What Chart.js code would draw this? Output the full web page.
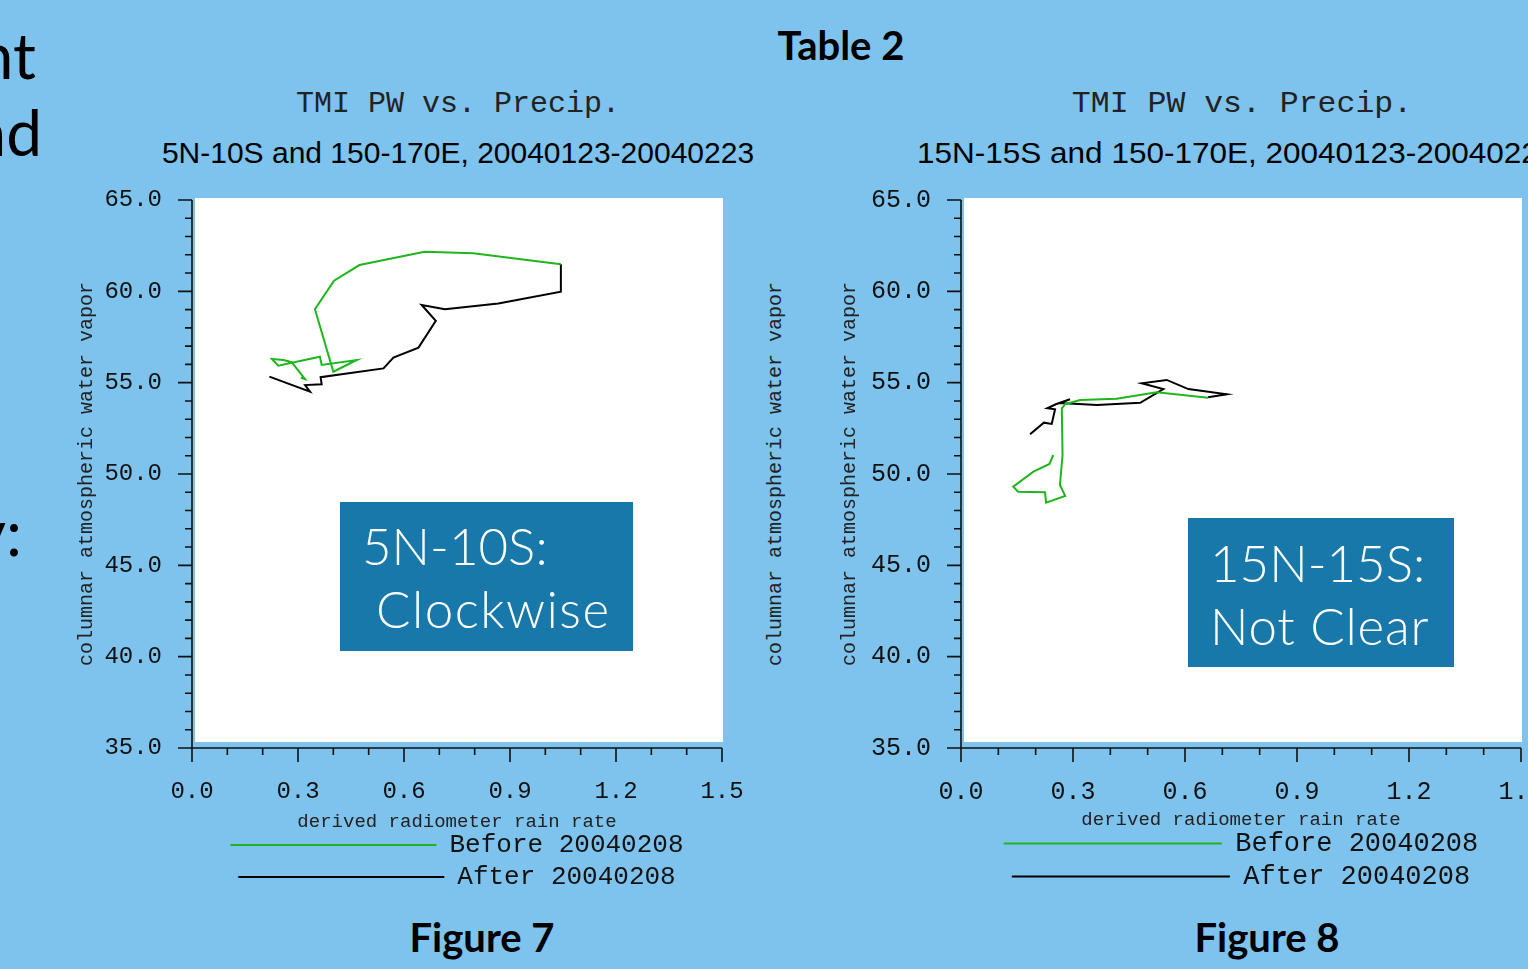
<!DOCTYPE html>
<html>
<head>
<meta charset="utf-8">
<script src="https://cdn.jsdelivr.net/npm/chart.js@4.4.1/dist/chart.umd.min.js"></script>
<style>
html, body { margin: 0; padding: 0; width: 1528px; height: 969px; overflow: hidden; background: #7dc3ed; }
.t { position: absolute; white-space: nowrap; line-height: 1; color: #000; }
.slide { font-family: Lato, sans-serif; font-size: 64px; text-align: right; }
.head { font-family: Lato, sans-serif; font-weight: bold; font-size: 40px; transform: translateX(-50%); }
.ttl { font-family: "Liberation Mono", monospace; font-size: 30px; color: #222; transform: translateX(-50%); }
.sub { font-family: "Liberation Sans", Arial, sans-serif; font-size: 30px; }
.box { position: absolute; background: #1878aa; }
.box div { position: absolute; white-space: nowrap; line-height: 1; color: #fff; font-family: Lato, sans-serif; font-weight: 300; font-size: 51px; }
.ytl { font-family: "Liberation Mono", monospace; font-size: 20px; color: #222; transform: translate(-50%, -50%) rotate(-90deg); }
canvas { position: absolute; }
</style>
</head>
<body>
<div class="t slide" style="left:-100px; width:136px; top:23px;">nt</div>
<div class="t slide" style="left:-100px; width:142px; top:100px;">nd</div>
<div class="t slide" style="left:-100px; width:122px; top:500px;">y:</div>

<div class="t head" style="left:841px; top:25px;">Table 2</div>

<div class="t ttl" style="left:458px; top:89px;">TMI PW vs. Precip.</div>
<div class="t sub" style="left:458px; top:138px; transform:translateX(-50%);">5N-10S and 150-170E, 20040123-20040223</div>
<div class="t ttl" style="left:1242px; top:89px; transform:translateX(-50%) scaleX(1.05);">TMI PW vs. Precip.</div>
<div class="t sub" style="left:917px; top:138px; transform-origin:0 0; transform:scaleX(1.05);">15N-15S and 150-170E, 20040123-20040223</div>

<div class="t ytl" style="left:776px; top:474px;">columnar atmospheric water vapor</div>

<canvas id="fig7" width="796" height="720" style="left:60px; top:180px;"></canvas>
<canvas id="fig8" width="822" height="720" style="left:830px; top:180px;"></canvas>

<div class="box" style="left:340px; top:502px; width:293px; height:149px;">
  <div style="left:22px; top:18px;">5N-10S:</div>
  <div style="left:36px; top:81px; letter-spacing:1.5px;">Clockwise</div>
</div>
<div class="box" style="left:1188px; top:518px; width:266px; height:149px;">
  <div style="left:22px; top:19px;">15N-15S:</div>
  <div style="left:22px; top:82px; letter-spacing:0.8px;">Not Clear</div>
</div>

<div class="t head" style="left:482px; top:917px;">Figure 7</div>
<div class="t head" style="left:1267px; top:917px;">Figure 8</div>

<script>
// axis ticks
var xTickValues = [0.0, 0.3, 0.6, 0.9, 1.2, 1.5];
var yTickValues = [35, 40, 45, 50, 55, 60, 65];
var seriesLabels = ['Before 20040208', 'After 20040208'];

// Figure 7: 5N-10S (rain rate, water vapor)
var fig7BeforeRain = [0.308, 0.320, 0.282, 0.259, 0.226, 0.244, 0.362, 0.367, 0.466, 0.400, 0.348, 0.402, 0.474, 0.658, 0.796, 1.044];
var fig7BeforePW   = [55.27, 55.20, 56.12, 56.24, 56.30, 55.93, 56.42, 55.97, 56.24, 55.60, 59.02, 60.58, 61.44, 62.17, 62.08, 61.48];
var fig7AfterRain  = [1.044, 1.044, 0.867, 0.716, 0.650, 0.690, 0.641, 0.570, 0.542, 0.364, 0.367, 0.320, 0.334, 0.219];
var fig7AfterPW    = [61.48, 59.98, 59.34, 59.02, 59.25, 58.39, 56.92, 56.37, 55.78, 55.30, 54.91, 54.87, 54.51, 55.33];

// Figure 8: 15N-15S
var fig8BeforeRain = [0.247, 0.237, 0.194, 0.140, 0.153, 0.225, 0.228, 0.279, 0.265, 0.272, 0.270, 0.279, 0.319, 0.417, 0.524, 0.662];
var fig8BeforePW   = [51.04, 50.55, 50.13, 49.31, 49.03, 49.00, 48.43, 48.80, 49.40, 51.04, 53.60, 53.82, 54.05, 54.12, 54.47, 54.18];
var fig8AfterRain  = [0.662, 0.712, 0.609, 0.551, 0.484, 0.542, 0.480, 0.364, 0.265, 0.292, 0.254, 0.231, 0.252, 0.243, 0.222, 0.185];
var fig8AfterPW    = [54.20, 54.36, 54.65, 55.15, 54.97, 54.65, 53.90, 53.78, 53.89, 54.09, 53.82, 53.60, 53.54, 52.74, 52.81, 52.17];

var GREEN = '#1fb51f';
var INK = '#111';
var MONO = '"Liberation Mono", monospace';

function pairs(xs, ys) {
  return xs.map(function (x, i) { return { x: x, y: ys[i] }; });
}

// white plot panel plus axes with major/minor ticks
var framePlugin = {
  id: 'frame',
  beforeDraw: function (chart) {
    var a = chart.chartArea, ctx = chart.ctx;
    ctx.save();
    ctx.fillStyle = '#fff';
    ctx.fillRect(a.left + 3, a.top - 2, a.right - a.left - 2, a.bottom - a.top - 4);
    ctx.restore();
  },
  afterDraw: function (chart) {
    var a = chart.chartArea, ctx = chart.ctx, x = chart.scales.x, y = chart.scales.y;
    ctx.save();
    ctx.strokeStyle = INK;
    ctx.lineWidth = 1.6;
    ctx.beginPath();
    ctx.moveTo(a.left, a.top);
    ctx.lineTo(a.left, a.bottom);
    ctx.moveTo(a.left - 14, a.bottom);
    ctx.lineTo(a.right, a.bottom);
    for (var v = 35; v <= 65; v++) {
      var py = y.getPixelForValue(v);
      var len = v % 5 === 0 ? 14 : 7;
      ctx.moveTo(a.left - len, py);
      ctx.lineTo(a.left, py);
    }
    for (var i = 0; i <= 15; i++) {
      var px = x.getPixelForValue(i / 10);
      var l2 = i % 3 === 0 ? 14 : 7;
      ctx.moveTo(px, a.bottom);
      ctx.lineTo(px, a.bottom + l2);
    }
    ctx.stroke();
    ctx.restore();
  }
};

function makeChart(id, before, after, o) {
  return new Chart(document.getElementById(id), {
    type: 'scatter',
    data: {
      datasets: [
        { label: seriesLabels[0], data: before, showLine: true, borderColor: GREEN, backgroundColor: GREEN, borderWidth: 2, pointRadius: 0, tension: 0 },
        { label: seriesLabels[1], data: after, showLine: true, borderColor: '#000', backgroundColor: '#000', borderWidth: 2, pointRadius: 0, tension: 0 }
      ]
    },
    options: {
      responsive: false,
      animation: false,
      events: [],
      layout: { padding: { left: 0, top: 20, right: o.padRight, bottom: 0 } },
      plugins: {
        tooltip: { enabled: false },
        legend: {
          position: 'bottom',
          fullSize: false,
          labels: { boxWidth: o.boxW, boxHeight: 0, padding: 6, color: INK, font: { family: MONO, size: o.legendSize } }
        }
      },
      scales: {
        x: {
          type: 'linear', min: 0, max: 1.5,
          afterBuildTicks: function (s) { s.ticks = xTickValues.map(function (v) { return { value: v }; }); },
          afterFit: function (s) { s.height = o.xh; },
          grid: { display: false, drawTicks: false },
          border: { display: false },
          ticks: { padding: 29, color: INK, maxRotation: 0, autoSkip: false, font: { family: MONO, size: o.tickSize },
                   callback: function (v) { return Number(v).toFixed(1); } },
          title: { display: true, text: 'derived radiometer rain rate', color: '#222', padding: { top: 0, bottom: 0 },
                   font: { family: MONO, size: 19, lineHeight: 0.4 } }
        },
        y: {
          type: 'linear', min: 35, max: 65,
          afterBuildTicks: function (s) { s.ticks = yTickValues.map(function (v) { return { value: v }; }); },
          afterFit: function (s) { s.width = o.yw; },
          grid: { display: true, drawOnChartArea: false, drawTicks: true, tickLength: 30, color: 'rgba(0,0,0,0)' },
          border: { display: false },
          ticks: { padding: 0, color: INK, autoSkip: false, font: { family: MONO, size: o.tickSize },
                   callback: function (v) { return Number(v).toFixed(1); } },
          title: { display: true, text: 'columnar atmospheric water vapor', color: '#222', padding: { top: o.ytPad, bottom: 0 },
                   font: { family: MONO, size: 20 } }
        }
      }
    },
    plugins: [framePlugin]
  });
}

makeChart('fig7', pairs(fig7BeforeRain, fig7BeforePW), pairs(fig7AfterRain, fig7AfterPW),
  { padRight: 134, yw: 132, xh: 78, boxW: 206, legendSize: 26, tickSize: 24, ytPad: 15 });
makeChart('fig8', pairs(fig8BeforeRain, fig8BeforePW), pairs(fig8AfterRain, fig8AfterPW),
  { padRight: 131, yw: 131, xh: 76, boxW: 218, legendSize: 27, tickSize: 25, ytPad: 8 });
</script>
</body>
</html>
